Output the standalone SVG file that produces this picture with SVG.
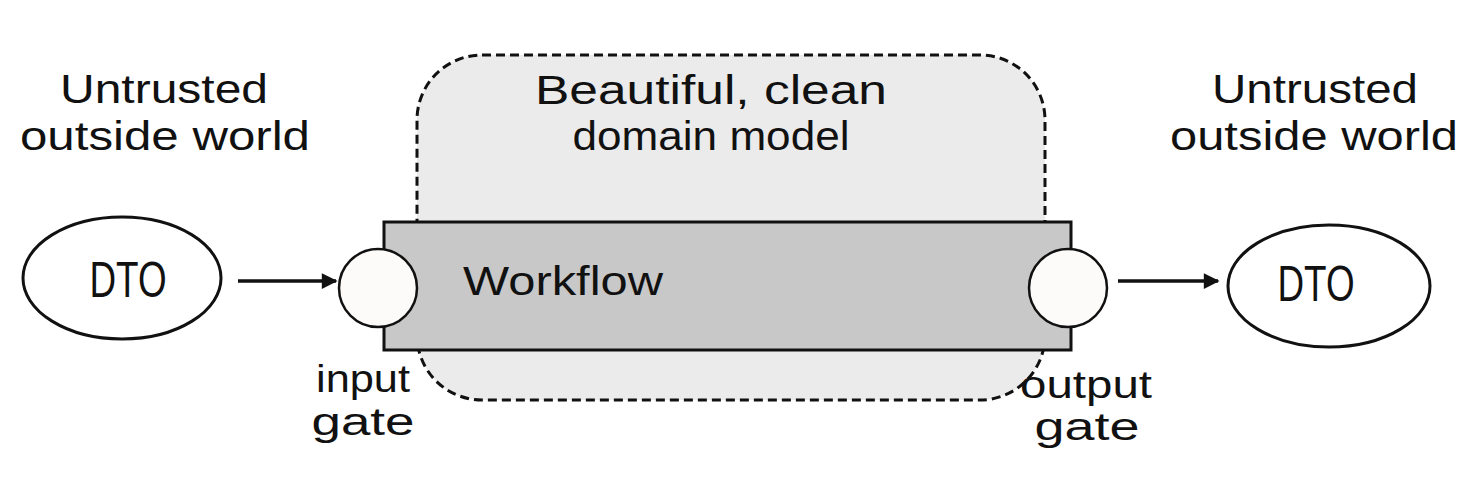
<svg xmlns="http://www.w3.org/2000/svg" width="1480" height="490" viewBox="0 0 1480 490">
<style>
.t{font-family:"Liberation Sans","DejaVu Sans",sans-serif;fill:#111;font-size:40px}
.s{font-family:"Liberation Sans","DejaVu Sans",sans-serif;fill:#111;font-size:38px}
.d{font-family:"Liberation Sans","DejaVu Sans",sans-serif;fill:#111;font-size:50px}
.ln{stroke:#111;fill:none}
</style>
<defs>
<marker id="ah" viewBox="0 0 10 10" refX="9" refY="5" markerWidth="6.5" markerHeight="4.5" markerUnits="strokeWidth" orient="auto">
<path d="M0,0 L10,5 L0,10 z" fill="#111"/>
</marker>
</defs>
<rect width="1480" height="490" fill="#fff"/>
<g id="domain">
<rect x="417" y="55" width="628" height="345" rx="65" ry="65" fill="#ebebeb" stroke="#111" stroke-width="3" stroke-dasharray="9,5"/>
<text class="t" x="711" y="104" text-anchor="middle" textLength="352" lengthAdjust="spacingAndGlyphs">Beautiful, clean</text>
<text class="t" x="711" y="150" text-anchor="middle" textLength="277" lengthAdjust="spacingAndGlyphs">domain model</text>
</g>
<g id="workflow">
<rect x="384" y="222" width="687" height="128" fill="#c8c8c8" stroke="#111" stroke-width="3"/>
<text class="t" x="463" y="295" textLength="200" lengthAdjust="spacingAndGlyphs">Workflow</text>
</g>
<g id="input-gate">
<circle cx="378" cy="288" r="39" fill="#fdfbfa" stroke="#111" stroke-width="2.5"/>
<text class="s" x="363" y="392" text-anchor="middle" textLength="94" lengthAdjust="spacingAndGlyphs">input</text>
<text class="s" x="363" y="435" text-anchor="middle" textLength="103" lengthAdjust="spacingAndGlyphs">gate</text>
</g>
<g id="output-gate">
<circle cx="1068" cy="288" r="39" fill="#fdfbfa" stroke="#111" stroke-width="2.5"/>
<text class="s" x="1086" y="398" text-anchor="middle" textLength="132" lengthAdjust="spacingAndGlyphs">output</text>
<text class="s" x="1087" y="440" text-anchor="middle" textLength="105" lengthAdjust="spacingAndGlyphs">gate</text>
</g>
<g id="dto-left">
<ellipse cx="122" cy="278" rx="99" ry="61" fill="#fff" stroke="#111" stroke-width="3"/>
<text class="d" x="128" y="297" text-anchor="middle" textLength="77" lengthAdjust="spacingAndGlyphs">DTO</text>
</g>
<g id="dto-right">
<ellipse cx="1329" cy="286" rx="101" ry="61" fill="#fff" stroke="#111" stroke-width="3"/>
<text class="d" x="1316" y="301" text-anchor="middle" textLength="77" lengthAdjust="spacingAndGlyphs">DTO</text>
</g>
<g id="outside-left">
<text class="t" x="164" y="103" text-anchor="middle" textLength="208" lengthAdjust="spacingAndGlyphs">Untrusted</text>
<text class="t" x="165" y="150" text-anchor="middle" textLength="290" lengthAdjust="spacingAndGlyphs">outside world</text>
</g>
<g id="outside-right">
<text class="t" x="1315" y="103" text-anchor="middle" textLength="206" lengthAdjust="spacingAndGlyphs">Untrusted</text>
<text class="t" x="1314" y="150" text-anchor="middle" textLength="288" lengthAdjust="spacingAndGlyphs">outside world</text>
</g>
<g id="connectors">
<line class="ln" x1="238" y1="281" x2="336" y2="281" stroke-width="3.5" marker-end="url(#ah)"/>
<line class="ln" x1="1118" y1="281" x2="1218" y2="281" stroke-width="3.5" marker-end="url(#ah)"/>
</g>
</svg>
